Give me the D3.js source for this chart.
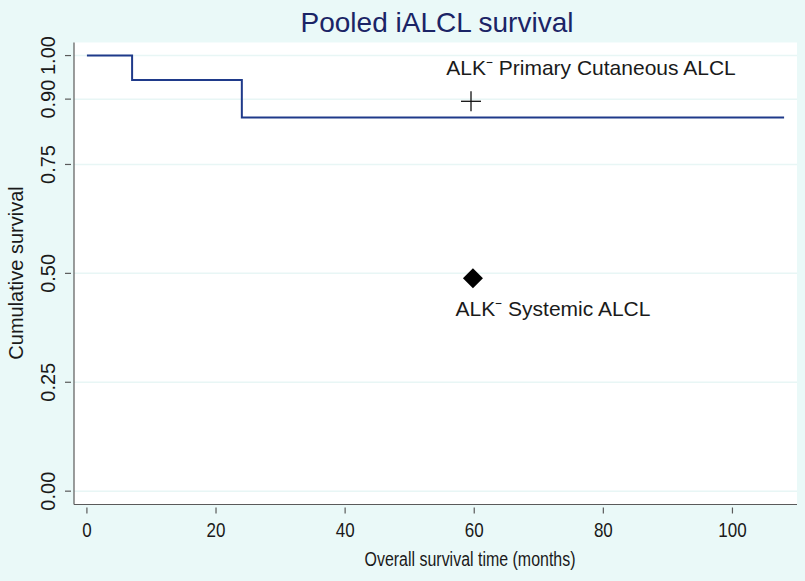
<!DOCTYPE html>
<html><head><meta charset="utf-8">
<script src="https://cdn.jsdelivr.net/npm/d3@7"></script>
<style>
html,body{margin:0;padding:0;background:#eaf9f8;}
svg{display:block;}
</style></head>
<body>
<svg id="c" width="805" height="581"></svg>
<script>
// Kaplan-Meier step curve (months, survival)
const kmTimes = [0, 7, 7, 24, 24, 108];
const kmSurv  = [1.00, 1.00, 0.944, 0.944, 0.858, 0.858];
// Reference points
const refNames = ["ALK\u207B Primary Cutaneous ALCL", "ALK\u207B Systemic ALCL"];
const refTime  = [59.5, 59.8];
const refSurv  = [0.895, 0.489];
const refShape = ["plus", "diamond"];
const xTicks = [0, 20, 40, 60, 80, 100];
const yTicks = [0, 0.25, 0.5, 0.75, 0.9, 1.0];
const yTickLabels = ["0.00", "0.25", "0.50", "0.75", "0.90", "1.00"];

const svg = d3.select("#c");
const L = 74, R = 797, T = 42.5, B = 504.5;
const x = d3.scaleLinear().domain([-2.0, 110.0]).range([L, R]);
const y = d3.scaleLinear().domain([-0.0306, 1.030]).range([B, T]);
const FONT = "'Liberation Sans', Arial, Helvetica, sans-serif";

svg.append("rect").attr("width", 805).attr("height", 581).attr("fill", "#eaf9f8");
svg.append("rect").attr("x", L).attr("y", T).attr("width", R - L).attr("height", B - T).attr("fill", "#ffffff");

// gridlines
svg.append("g").selectAll("line").data(yTicks).join("line")
  .attr("x1", L).attr("x2", R)
  .attr("y1", d => y(d)).attr("y2", d => y(d))
  .attr("stroke", "#e8f6f5").attr("stroke-width", 1.5);

// axes lines
svg.append("line").attr("x1", L).attr("x2", L).attr("y1", T).attr("y2", B).attr("stroke", "#5a5a5a").attr("stroke-width", 1.2);
svg.append("line").attr("x1", L).attr("x2", R).attr("y1", B).attr("y2", B).attr("stroke", "#5a5a5a").attr("stroke-width", 1.2);

// x ticks
const xg = svg.append("g");
xg.selectAll("line").data(xTicks).join("line")
  .attr("x1", d => x(d)).attr("x2", d => x(d))
  .attr("y1", B + 3).attr("y2", B + 9)
  .attr("stroke", "#5a5a5a").attr("stroke-width", 1.2);
xg.selectAll("text").data(xTicks).join("text")
  .attr("transform", d => `translate(${x(d)},537) scale(0.85,1)`)
  .attr("text-anchor", "middle")
  .attr("font-family", FONT)
  .attr("font-size", 20).attr("fill", "#1a1a1a")
  .text(d => d);

// y ticks
const yg = svg.append("g");
yg.selectAll("line").data(yTicks).join("line")
  .attr("x1", L - 9).attr("x2", L - 3)
  .attr("y1", d => y(d)).attr("y2", d => y(d))
  .attr("stroke", "#5a5a5a").attr("stroke-width", 1.2);
yg.selectAll("text").data(yTicks).join("text")
  .attr("transform", d => `translate(55,${y(d)}) rotate(-90)`)
  .attr("text-anchor", "middle")
  .attr("font-family", FONT)
  .attr("font-size", 20).attr("fill", "#1a1a1a")
  .text((d, i) => yTickLabels[i]);

// axis titles
svg.append("text").attr("transform", "translate(470,566) scale(0.76,1)").attr("text-anchor", "middle")
  .attr("font-family", FONT)
  .attr("font-size", 21).attr("fill", "#1a1a1a")
  .text("Overall survival time (months)");
svg.append("text").attr("transform", `translate(23,273) rotate(-90)`)
  .attr("text-anchor", "middle")
  .attr("font-family", FONT)
  .attr("font-size", 20).attr("fill", "#1a1a1a")
  .text("Cumulative survival");

// title
svg.append("text").attr("x", 437).attr("y", 32).attr("text-anchor", "middle")
  .attr("font-family", FONT)
  .attr("font-size", 28).attr("fill", "#1b2466")
  .text("Pooled iALCL survival");

// KM line
const line = d3.line().x(d => x(d[0])).y(d => y(d[1]));
svg.append("path").datum(kmTimes.map((t, i) => [t, kmSurv[i]]))
  .attr("d", line).attr("fill", "none")
  .attr("stroke", "#1f3a8a").attr("stroke-width", 2);

// reference markers
const mg = svg.append("g");
refTime.forEach((t, i) => {
  const cx = x(t), cy = y(refSurv[i]);
  if (refShape[i] === "plus") {
    mg.append("line").attr("x1", cx - 10).attr("x2", cx + 10).attr("y1", cy).attr("y2", cy).attr("stroke", "#111").attr("stroke-width", 1.3);
    mg.append("line").attr("x1", cx).attr("x2", cx).attr("y1", cy - 10).attr("y2", cy + 10).attr("stroke", "#111").attr("stroke-width", 1.3);
  } else {
    mg.append("path").attr("transform", `translate(${cx},${cy}) rotate(45)`)
      .attr("d", d3.symbol(d3.symbolSquare, 200)()).attr("fill", "#000");
  }
});

// labels
const labPos = [[591, 75], [553, 316]];
refNames.forEach((n, i) => {
  svg.append("text").attr("x", labPos[i][0]).attr("y", labPos[i][1]).attr("text-anchor", "middle")
    .attr("font-family", FONT)
    .attr("font-size", 21).attr("fill", "#1a1a1a")
    .text(n);
});
</script>
</body></html>
